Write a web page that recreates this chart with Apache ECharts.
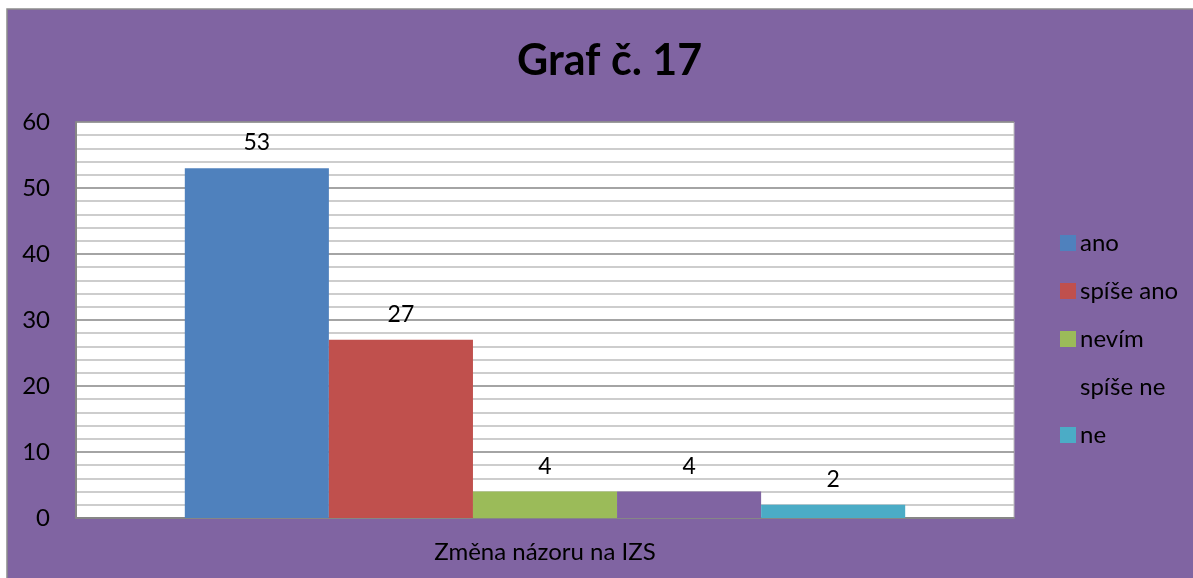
<!DOCTYPE html>
<html>
<head>
<meta charset="utf-8">
<script src="https://cdn.jsdelivr.net/npm/echarts@6/dist/echarts.min.js"></script>
<style>
  html, body { margin: 0; padding: 0; background: #fff; }
  #chart { width: 1193px; height: 578px; }
</style>
</head>
<body>
<div id="chart"></div>
<script>
// data
const categories = ['Změna názoru na IZS'];
const seriesNames = ['ano', 'spíše ano', 'nevím', 'spíše ne', 'ne'];
const seriesValues = [53, 27, 4, 4, 2];
const seriesColors = ['#4F81BD', '#C0504D', '#9BBB59', '#8064A2', '#4BACC6'];
const yTicks = { min: 0, max: 60, interval: 10 };

const chart = echarts.init(document.getElementById('chart'));
const font = 'Lato, "Open Sans", sans-serif';

const series = seriesNames.map(function (name, i) {
    return {
        name: name,
        type: 'bar',
        data: [seriesValues[i]],
        barGap: '0%',
        barCategoryGap: '23.2%',
        itemStyle: { color: seriesColors[i] },
        label: {
            show: true,
            position: 'top',
            distance: 14,
            color: '#000',
            fontSize: 23,
            fontFamily: font
        }
    };
});

const options = {
    backgroundColor: '#fff',
    animation: false,
    graphic: [{
        type: 'rect',
        z: -10,
        shape: { x: 7, y: 9, width: 1200, height: 590 },
        style: { fill: '#8064A2', stroke: '#8c8c8c', lineWidth: 1.5 }
    }],
    title: {
        text: 'Graf č. 17',
        left: 512,
        top: 35,
        textStyle: {
            fontSize: 43,
            fontWeight: 'bold',
            color: '#000',
            fontFamily: font
        }
    },
    legend: {
        data: seriesNames,
        orient: 'vertical',
        left: 1055,
        top: 226,
        itemWidth: 16,
        itemHeight: 16,
        itemGap: 24,
        icon: 'rect',
        textStyle: {
            fontSize: 24,
            color: '#000',
            fontFamily: font,
            padding: [0, 0, 0, -1]
        }
    },
    grid: {
        left: 76,
        top: 122,
        width: 938,
        height: 396,
        show: true,
        backgroundColor: '#fff',
        borderColor: '#bdbdbd',
        borderWidth: 1
    },
    xAxis: {
        type: 'category',
        data: categories,
        axisTick: { show: false },
        axisLine: { lineStyle: { color: '#868686', width: 2 } },
        axisLabel: {
            margin: 22,
            fontSize: 24,
            color: '#000',
            fontFamily: font
        }
    },
    yAxis: {
        type: 'value',
        min: yTicks.min,
        max: yTicks.max,
        interval: yTicks.interval,
        axisLine: { show: true, lineStyle: { color: '#868686', width: 2 } },
        axisTick: { show: false },
        axisLabel: {
            margin: 26,
            fontSize: 24,
            color: '#000',
            fontFamily: font
        },
        splitLine: { lineStyle: { color: '#868686', width: 1.5 } },
        minorTick: { show: false, splitNumber: 5 },
        minorSplitLine: { show: true, lineStyle: { color: '#bdbdbd', width: 1.5 } }
    },
    series: series
};

chart.setOption(options);
</script>
</body>
</html>
